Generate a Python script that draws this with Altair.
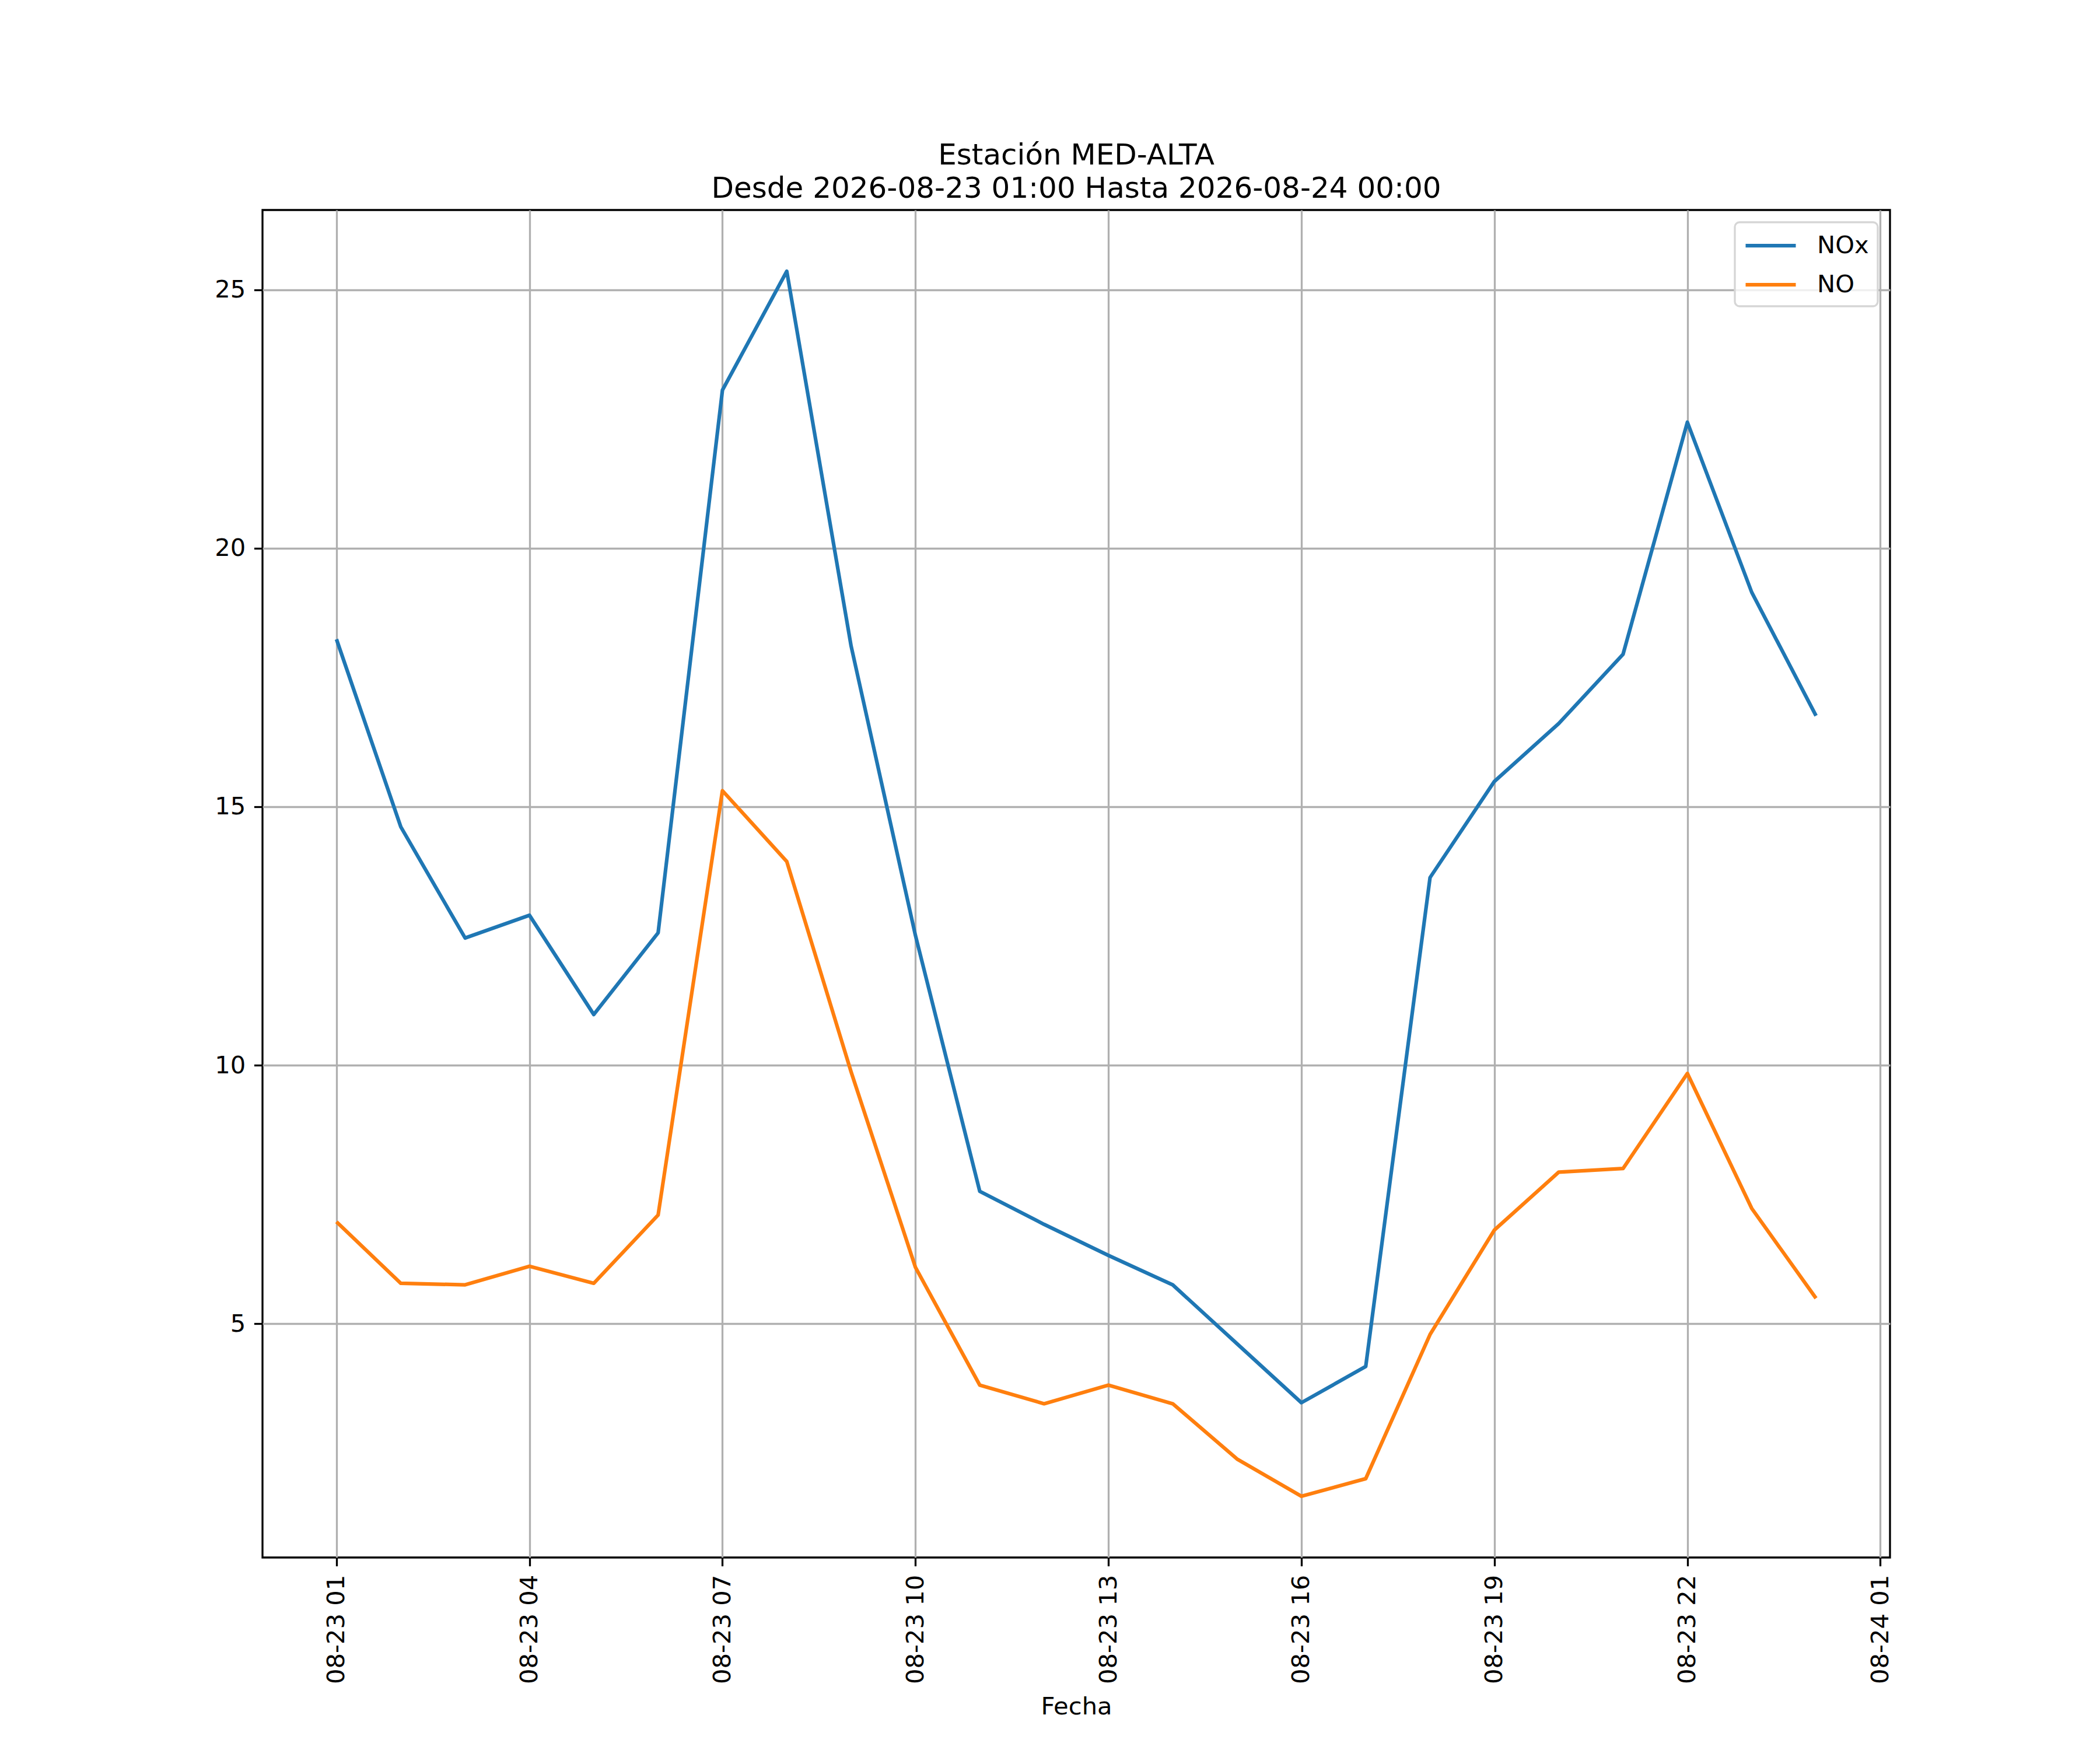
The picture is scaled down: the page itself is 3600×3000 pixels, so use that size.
import altair as alt
import pandas as pd

# ---- data ----
times = pd.date_range("2026-08-23 01:00", "2026-08-24 00:00", freq="h").strftime("%Y-%m-%dT%H:%M:%S").tolist()
nox = [18.24, 14.61, 12.46, 12.90, 10.98, 12.56, 23.06, 25.36, 18.11, 12.51, 7.56, 6.92,
       6.32, 5.75, 4.61, 3.47, 4.17, 13.63, 15.49, 16.61, 17.95, 22.44, 19.15, 16.76]
no = [6.97, 5.78, 5.75, 6.11, 5.78, 7.10, 15.31, 13.94, 9.87, 6.09, 3.81, 3.45,
      3.81, 3.45, 2.38, 1.66, 2.00, 4.79, 6.81, 7.93, 8.00, 9.84, 7.23, 5.49]
series = ["NOx", "NO"]
colors = ["#1f77b4", "#ff7f0e"]
y_ticks = [5, 10, 15, 20, 25]
x_tick_times = [(23, 1), (23, 4), (23, 7), (23, 10), (23, 13), (23, 16), (23, 19), (23, 22), (24, 1)]
title_lines = ["Estación MED-ALTA", "Desde 2026-08-23 01:00 Hasta 2026-08-24 00:00"]

df = pd.DataFrame({
    "Fecha": times * 2,
    "valor": nox + no,
    "serie": ["NOx"] * len(nox) + ["NO"] * len(no),
})

FONT = "DejaVu Sans"
FS = 41.67

x_values = [alt.DateTime(year=2026, month=8, date=d, hours=h) for d, h in x_tick_times]
x_domain = [alt.DateTime(year=2026, month=8, date=22, hours=23, minutes=51),
            alt.DateTime(year=2026, month=8, date=24, hours=1, minutes=9)]

chart = alt.Chart(df).mark_line(strokeWidth=6.25, strokeJoin="round").encode(
    x=alt.X("Fecha:T", title="Fecha",
            scale=alt.Scale(domain=x_domain, nice=False),
            axis=alt.Axis(values=x_values, format="%m-%d %H", labelAngle=270,
                          labelAlign="right", labelBaseline="middle",
                          labelFlush=False, labelOverlap=False, labelBound=False,
                          labelLimit=1000, titlePadding=35)),
    y=alt.Y("valor:Q", title=None,
            scale=alt.Scale(domain=[0.475, 26.545], nice=False, zero=False),
            axis=alt.Axis(values=y_ticks, labelOverlap=False)),
    color=alt.Color("serie:N", scale=alt.Scale(domain=series, range=colors),
                    legend=alt.Legend(title=None, orient="top-right", offset=21,
                                      symbolType="M-1,0H3", symbolSize=1850,
                                      symbolStrokeWidth=6.25, labelFont=FONT,
                                      labelFontSize=FS, labelColor="black",
                                      labelOffset=76, padding=15, rowPadding=20,
                                      strokeColor="#d6d6d6",
                                      fillColor="rgba(255,255,255,0.8)",
                                      cornerRadius=8)),
).properties(
    width=2790,
    height=2310,
    autosize=alt.AutoSizeParams(type="none"),
    padding={"left": 442, "top": 352, "right": 352, "bottom": 322},
    title=alt.TitleParams(text=title_lines, font=FONT, fontSize=50,
                          fontWeight="normal", anchor="middle", offset=11,
                          lineHeight=57, color="black"),
).configure_view(
    stroke="black", strokeWidth=3.3
).configure_axis(
    domain=False, grid=True, gridColor="#b0b0b0", gridWidth=3.3,
    ticks=True, tickColor="black", tickWidth=3.3, tickSize=14.6,
    labelFont=FONT, labelFontSize=FS, labelColor="black", labelPadding=14.6,
    titleFont=FONT, titleFontSize=FS, titleFontWeight="normal", titleColor="black",
).configure_legend(
    strokeWidth=3.3
)

chart.save("out.html", embed_options={"renderer": "svg", "actions": False})
